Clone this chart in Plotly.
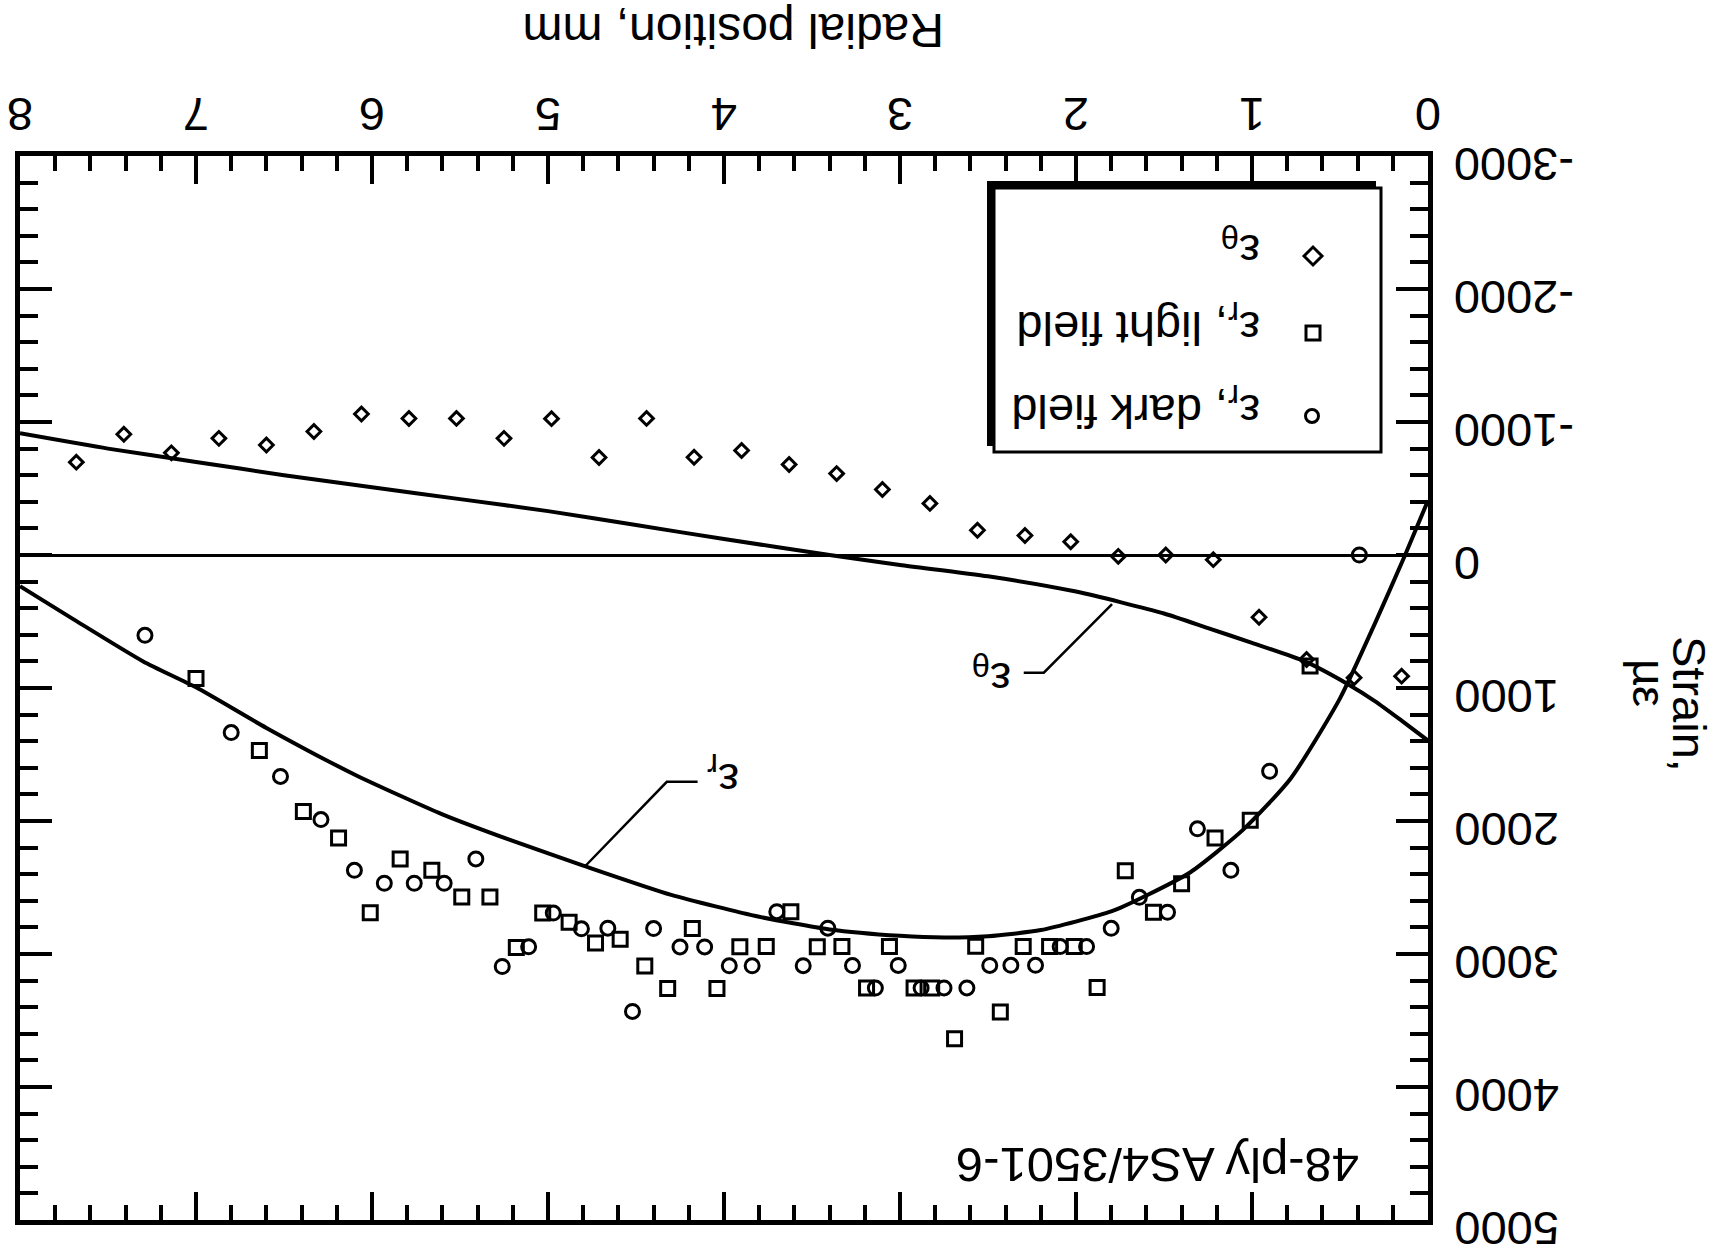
import plotly.graph_objects as go

# ---------------- data ----------------
# hoop strain, epsilon_theta (diamonds)
theta_x = [7.68, 7.41, 7.14, 6.87, 6.60, 6.33, 6.06, 5.79, 5.52, 5.25, 4.98, 4.71, 4.44, 4.17,
           3.90, 3.63, 3.36, 3.10, 2.83, 2.56, 2.29, 2.03, 1.76, 1.49, 1.22, 0.96, 0.69, 0.42, 0.15]
theta_y = [-698, -908, -768, -877, -827, -929, -1060, -1026, -1027, -877, -1025, -733, -1027, -735,
           -786, -681, -612, -492, -388, -186, -147, -100, 10, 0, 35, 468, 786, 923, 911]

# radial strain, dark field (circles)
dark_x = [7.29, 6.80, 6.52, 6.29, 6.10, 5.93, 5.76, 5.59, 5.41, 5.26, 5.11, 4.97, 4.81, 4.66,
          4.52, 4.40, 4.25, 4.11, 3.97, 3.84, 3.70, 3.55, 3.41, 3.27, 3.14, 3.01, 2.88, 2.75,
          2.62, 2.49, 2.37, 2.23, 2.09, 1.94, 1.80, 1.64, 1.48, 1.31, 1.12, 0.90, 0.39]
dark_y = [604, 1335, 1665, 1989, 2371, 2468, 2468, 2468, 2285, 3094, 2946, 2692, 2811, 2806,
          3432, 2809, 2947, 2947, 3089, 3089, 2682, 3088, 2806, 3087, 3256, 3086, 3256, 3255,
          3255, 3086, 3085, 3085, 2944, 2944, 2807, 2574, 2686, 2059, 2371, 1626, 0]

# radial strain, light field (squares)
light_x = [7.00, 6.64, 6.39, 6.19, 6.01, 5.84, 5.66, 5.49, 5.33, 5.18, 5.03, 4.88, 4.73, 4.59,
           4.45, 4.32, 4.18, 4.04, 3.91, 3.76, 3.62, 3.47, 3.33, 3.19, 3.06, 2.92, 2.82, 2.69,
           2.57, 2.43, 2.30, 2.15, 2.01, 1.88, 1.72, 1.56, 1.40, 1.21, 1.01, 0.67]
light_y = [929, 1470, 1928, 2127, 2690, 2286, 2371, 2571, 2571, 2951, 2692, 2762, 2918, 2890,
           3090, 3260, 2808, 3259, 2945, 2944, 2682, 2945, 2944, 3256, 2944, 3256, 3256, 3638,
           2942, 3437, 2944, 2944, 2944, 3251, 2374, 2687, 2472, 2128, 1995, 834]

# model curves
curve_theta_x = [8.0, 7.5, 7.0, 6.5, 6.0, 5.5, 5.0, 4.5, 4.0, 3.4, 3.0, 2.5, 2.0, 1.5, 1.25,
                 1.0, 0.7, 0.45, 0.3, 0.15, 0.0]
curve_theta_y = [-915, -800, -700, -600, -510, -420, -330, -225, -120, 0, 75, 160, 275, 440, 550,
                 660, 800, 975, 1100, 1245, 1395]
curve_r_x = [8.0, 7.7, 7.3, 7.0, 6.6, 6.1, 5.6, 5.2, 4.8, 4.3, 3.8, 3.4, 3.0, 2.75, 2.5, 2.2,
             1.8, 1.6, 1.35, 1.05, 0.78, 0.5, 0.3, 0.13, 0.0]
curve_r_y = [235, 480, 800, 995, 1300, 1650, 1950, 2150, 2335, 2555, 2720, 2815, 2863, 2876,
             2866, 2820, 2680, 2560, 2385, 2065, 1680, 1078, 510, 0, -410]

x_ticks = [0, 1, 2, 3, 4, 5, 6, 7, 8]
y_ticks = [-3000, -2000, -1000, 0, 1000, 2000, 3000, 4000, 5000]

# ---------------- layout helpers ----------------
W, H = 1721, 1253
L, R, T, B = 20, 1428, 156, 1220
FONT = "Liberation Sans, Arial, Helvetica, sans-serif"
FS = 47


def px(X):
    return (X - L) / (R - L)


def py(Y):
    return (B - Y) / (B - T)


fig = go.Figure()
fig.add_trace(go.Scatter(x=curve_theta_x, y=curve_theta_y, mode="lines",
                         line=dict(color="black", width=4, shape="spline", smoothing=0.6),
                         showlegend=False, hoverinfo="skip"))
fig.add_trace(go.Scatter(x=curve_r_x, y=curve_r_y, mode="lines",
                         line=dict(color="black", width=4, shape="spline", smoothing=0.6),
                         showlegend=False, hoverinfo="skip"))
mk_line = dict(color="black", width=3)
fig.add_trace(go.Scatter(x=theta_x, y=theta_y, mode="markers", name="εθ",
                         marker=dict(symbol="diamond-open", size=10.5, color="black", line=mk_line),
                         showlegend=False))
fig.add_trace(go.Scatter(x=light_x, y=light_y, mode="markers", name="εr, light field",
                         marker=dict(symbol="square-open", size=14, color="black", line=mk_line),
                         showlegend=False))
fig.add_trace(go.Scatter(x=dark_x, y=dark_y, mode="markers", name="εr, dark field",
                         marker=dict(symbol="circle-open", size=14, color="black", line=mk_line),
                         showlegend=False))

axis_common = dict(showline=True, linewidth=5, linecolor="black", mirror="allticks",
                   ticks="inside", tickcolor="black", tickwidth=4, showgrid=False,
                   showticklabels=False, automargin=False)

fig.update_xaxes(range=[8, 0], side="top", tickmode="array", tickvals=x_ticks,
                 ticklen=28, zeroline=False,
                 minor=dict(ticks="inside", ticklen=15, tickwidth=4, tickcolor="black",
                            dtick=0.2, tick0=0, showgrid=False),
                 **axis_common)
fig.update_yaxes(range=[5000, -3000], side="right", tickmode="array", tickvals=y_ticks,
                 ticklen=32, zeroline=True, zerolinecolor="black", zerolinewidth=2.5,
                 minor=dict(ticks="inside", ticklen=18, tickwidth=4, tickcolor="black",
                            dtick=200, tick0=0, showgrid=False),
                 **axis_common)

shapes = []
# legend box with drop shadow (shadow appears on left/top because the figure is upside down)
shapes.append(dict(type="rect", xref="paper", yref="paper", x0=px(987), x1=px(1376),
                   y0=py(446), y1=py(181), fillcolor="black", line=dict(width=0), layer="above"))
shapes.append(dict(type="rect", xref="paper", yref="paper", x0=px(994), x1=px(1381),
                   y0=py(452), y1=py(188), fillcolor="white",
                   line=dict(color="black", width=3), layer="above"))
# legend symbols
cx, cy, h = 1313, 256, 9
shapes.append(dict(type="path", xref="paper", yref="paper",
                   path=f"M {px(cx-h)},{py(cy)} L {px(cx)},{py(cy-h)} L {px(cx+h)},{py(cy)} L {px(cx)},{py(cy+h)} Z",
                   line=dict(color="black", width=3)))
cx, cy, h = 1313, 333, 7
shapes.append(dict(type="rect", xref="paper", yref="paper", x0=px(cx-h), x1=px(cx+h),
                   y0=py(cy+h), y1=py(cy-h), line=dict(color="black", width=3)))
cx, cy, h = 1312, 416, 6.5
shapes.append(dict(type="circle", xref="paper", yref="paper", x0=px(cx-h), x1=px(cx+h),
                   y0=py(cy+h), y1=py(cy-h), line=dict(color="black", width=3)))
# leader lines for the curve labels
shapes.append(dict(type="path", xref="x", yref="y",
                   path="M 2.297,885 L 2.183,885 L 1.795,370",
                   line=dict(color="black", width=2.5)))
shapes.append(dict(type="path", xref="x", yref="y",
                   path="M 4.150,1705 L 4.325,1705 L 4.792,2344",
                   line=dict(color="black", width=2.5)))

tf = dict(family=FONT, size=FS, color="black")
ann = []


def add_text(text, X, Y, xanchor="center", yanchor="middle", angle=180, size=FS):
    ann.append(dict(text=text, xref="paper", yref="paper", x=px(X), y=py(Y),
                    xanchor=xanchor, yanchor=yanchor, showarrow=False, textangle=angle,
                    font=dict(family=FONT, size=size, color="black")))


# x tick labels, placed through the x scale (upside-down, above the top axis)
for v in x_ticks:
    ann.append(dict(text=str(v), xref="x", yref="paper", x=v, y=py(115), xanchor="center",
                    yanchor="middle", showarrow=False, textangle=180, font=tf))
# y tick labels, placed through the y scale (upside-down, left-aligned right of the axis)
for v in y_ticks:
    ann.append(dict(text=str(v), xref="paper", yref="y", x=px(1452), y=v, xanchor="left",
                    yanchor="middle", yshift=-9, showarrow=False, textangle=180, font=tf))

add_text("Radial position, mm", 733, 31, size=48)
add_text("Strain,", 1690, 704, angle=90)
add_text("µε", 1650, 683, angle=90)
add_text("48-ply AS4/3501-6", 1158, 1165, size=49)
add_text("ε<sub>θ</sub>", 1013, 676, xanchor="right")
add_text("ε<sub>r</sub>", 705, 777, xanchor="left")
add_text("ε<sub>θ</sub>", 1262, 248, xanchor="right")
add_text("ε<sub>r</sub>, light field", 1262, 325, xanchor="right")
add_text("ε<sub>r</sub>, dark field", 1262, 408, xanchor="right")

fig.update_layout(width=W, height=H, margin=dict(l=L, r=W - R, t=T, b=H - B, pad=0),
                  paper_bgcolor="white", plot_bgcolor="white", showlegend=False,
                  shapes=shapes, annotations=ann, font=dict(family=FONT, color="black"))

fig.write_html("out.html", config={"displayModeBar": False},
               post_script="document.body.style.margin='0px';")
